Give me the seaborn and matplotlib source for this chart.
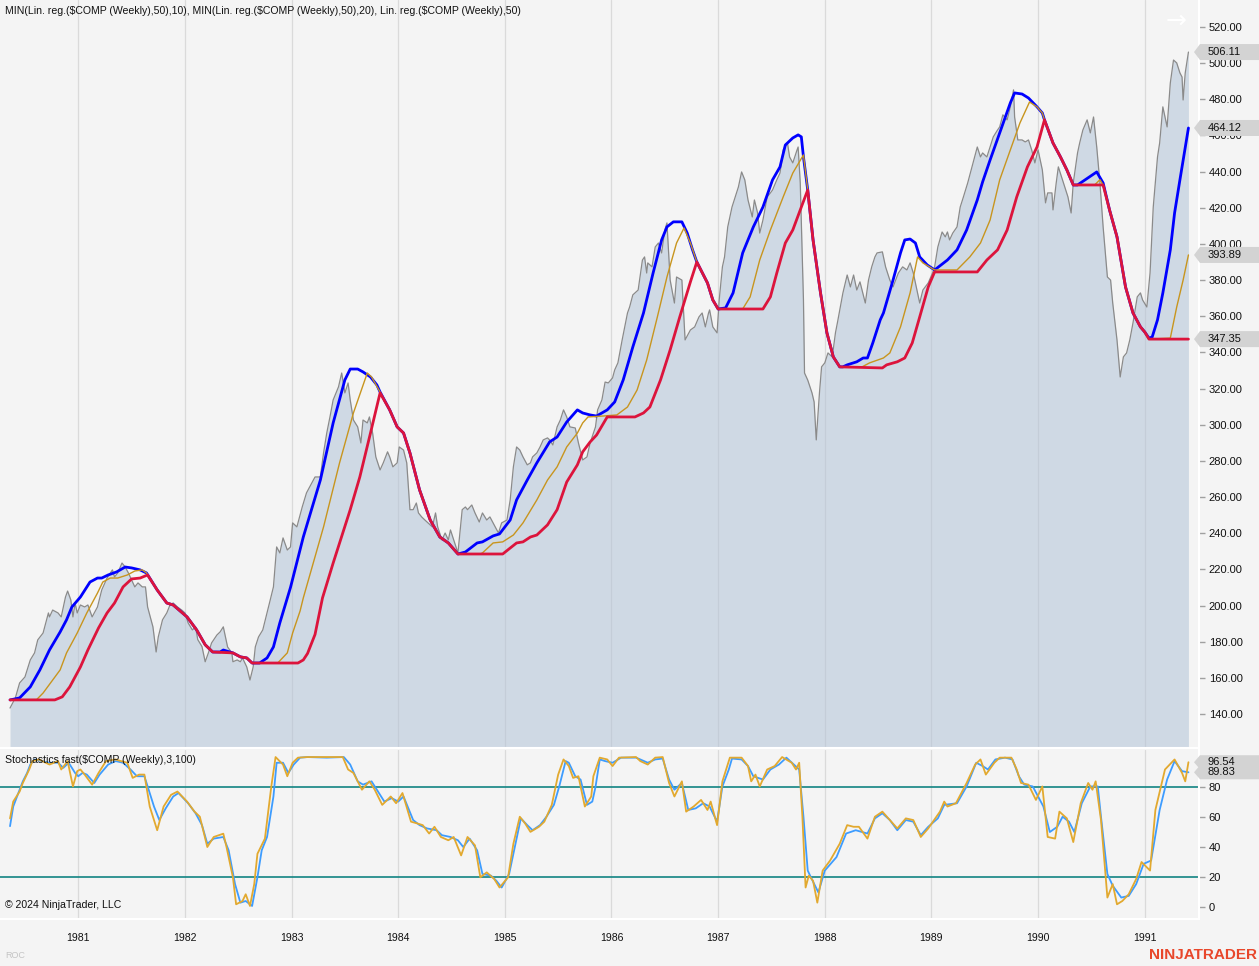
import matplotlib
matplotlib.use("Agg")
import matplotlib.pyplot as plt
import seaborn as sns
import numpy as np
import pandas as pd
from matplotlib.patches import Polygon
from matplotlib.transforms import IdentityTransform

# ---------------- data (decimal years, index values) ----------------
price_t = [1980.36, 1980.41, 1980.45, 1980.50, 1980.55, 1980.59, 1980.62, 1980.67, 1980.72, 1980.73,
           1980.76, 1980.81, 1980.84, 1980.88, 1980.90, 1980.93, 1980.95, 1980.97, 1980.99, 1981.02,
           1981.06, 1981.09, 1981.13, 1981.18, 1981.22, 1981.27, 1981.32, 1981.34, 1981.37, 1981.41,
           1981.44, 1981.47, 1981.50, 1981.53, 1981.56, 1981.60, 1981.63, 1981.65, 1981.69, 1981.70,
           1981.73, 1981.75, 1981.79, 1981.83, 1981.86, 1981.89, 1981.93, 1981.97, 1982.00, 1982.03,
           1982.07, 1982.10, 1982.12, 1982.16, 1982.19, 1982.22, 1982.25, 1982.30, 1982.33, 1982.36,
           1982.38, 1982.40, 1982.44, 1982.45, 1982.49, 1982.52, 1982.54, 1982.58, 1982.61, 1982.64,
           1982.66, 1982.69, 1982.73, 1982.77, 1982.80, 1982.83, 1982.86, 1982.89, 1982.92, 1982.96,
           1982.99, 1983.01, 1983.05, 1983.10, 1983.14, 1983.19, 1983.22, 1983.27, 1983.30, 1983.33,
           1983.36, 1983.39, 1983.44, 1983.47, 1983.50, 1983.53, 1983.55, 1983.58, 1983.62, 1983.65,
           1983.67, 1983.71, 1983.73, 1983.76, 1983.79, 1983.83, 1983.86, 1983.90, 1983.92, 1983.95,
           1983.99, 1984.01, 1984.05, 1984.08, 1984.11, 1984.14, 1984.17, 1984.19, 1984.22, 1984.25,
           1984.28, 1984.32, 1984.35, 1984.37, 1984.41, 1984.44, 1984.47, 1984.49, 1984.53, 1984.56,
           1984.60, 1984.63, 1984.65, 1984.69, 1984.72, 1984.76, 1984.79, 1984.83, 1984.86, 1984.89,
           1984.94, 1984.97, 1985.02, 1985.05, 1985.08, 1985.11, 1985.14, 1985.17, 1985.21, 1985.24,
           1985.26, 1985.30, 1985.33, 1985.36, 1985.40, 1985.42, 1985.45, 1985.49, 1985.52, 1985.55,
           1985.58, 1985.61, 1985.66, 1985.69, 1985.73, 1985.77, 1985.80, 1985.85, 1985.87, 1985.91,
           1985.94, 1985.97, 1986.01, 1986.03, 1986.06, 1986.10, 1986.15, 1986.17, 1986.20, 1986.25,
           1986.29, 1986.31, 1986.33, 1986.34, 1986.38, 1986.41, 1986.44, 1986.47, 1986.50, 1986.52,
           1986.55, 1986.59, 1986.61, 1986.66, 1986.69, 1986.74, 1986.78, 1986.82, 1986.85, 1986.88,
           1986.91, 1986.92, 1986.95, 1986.99, 1987.01, 1987.04, 1987.06, 1987.09, 1987.13, 1987.16,
           1987.19, 1987.22, 1987.25, 1987.28, 1987.32, 1987.34, 1987.37, 1987.39, 1987.42, 1987.46,
           1987.49, 1987.51, 1987.55, 1987.58, 1987.61, 1987.65, 1987.67, 1987.70, 1987.74, 1987.75,
           1987.77, 1987.80, 1987.81, 1987.84, 1987.88, 1987.90, 1987.92, 1987.95, 1987.97, 1988.00,
           1988.03, 1988.07, 1988.10, 1988.12, 1988.17, 1988.21, 1988.24, 1988.27, 1988.30, 1988.33,
           1988.38, 1988.41, 1988.44, 1988.47, 1988.49, 1988.54, 1988.57, 1988.61, 1988.64, 1988.69,
           1988.73, 1988.77, 1988.80, 1988.83, 1988.87, 1988.89, 1988.92, 1988.97, 1989.01, 1989.03,
           1989.06, 1989.10, 1989.13, 1989.15, 1989.17, 1989.20, 1989.24, 1989.27, 1989.30, 1989.34,
           1989.38, 1989.43, 1989.46, 1989.48, 1989.52, 1989.55, 1989.58, 1989.62, 1989.64, 1989.67,
           1989.71, 1989.74, 1989.77, 1989.78, 1989.81, 1989.85, 1989.88, 1989.91, 1989.94, 1989.97,
           1990.00, 1990.04, 1990.07, 1990.09, 1990.13, 1990.14, 1990.17, 1990.19, 1990.22, 1990.25,
           1990.28, 1990.31, 1990.33, 1990.37, 1990.39, 1990.42, 1990.46, 1990.49, 1990.52, 1990.55,
           1990.58, 1990.61, 1990.65, 1990.68, 1990.70, 1990.74, 1990.77, 1990.80, 1990.83, 1990.86,
           1990.89, 1990.93, 1990.96, 1990.98, 1991.02, 1991.05, 1991.08, 1991.12, 1991.14, 1991.17,
           1991.21, 1991.24, 1991.27, 1991.30, 1991.33, 1991.35, 1991.36, 1991.38, 1991.41]
price_v = [143.3, 148.9, 157.2, 160.5, 169.9, 173.8, 181.0, 184.8, 195.9, 193.7,
           197.5, 195.9, 193.7, 204.7, 208.0, 203.1, 193.7, 201.4, 195.9, 200.3,
           199.2, 200.3, 193.7, 199.2, 208.6, 215.2, 219.7, 215.8, 218.0, 223.5,
           221.3, 218.0, 214.1, 210.3, 212.5, 210.3, 210.3, 199.2, 190.4, 188.2,
           174.3, 182.6, 192.1, 195.9, 200.3, 201.4, 199.2, 197.5, 195.9, 190.4,
           186.5, 188.2, 181.2, 177.3, 168.9, 173.8, 179.3, 183.7, 185.4, 188.2,
           182.6, 177.1, 173.8, 168.9, 169.9, 168.9, 171.0, 166.0, 158.8, 166.0,
           177.1, 182.6, 186.5, 195.9, 203.1, 210.3, 232.4, 229.1, 237.4, 230.7,
           232.4, 245.7, 243.5, 254.5, 262.3, 267.8, 271.1, 271.1, 284.4, 295.4,
           304.3, 313.7, 320.9, 328.6, 317.6, 323.1, 313.7, 302.6, 298.8, 289.9,
           302.6, 301.0, 304.3, 295.4, 282.2, 275.0, 278.9, 285.0, 282.2, 276.7,
           278.9, 287.7, 286.0, 278.9, 253.0, 253.0, 256.7, 251.2, 249.0, 247.3,
           245.7, 243.5, 251.2, 243.5, 236.3, 240.1, 236.3, 241.8, 234.6, 229.1,
           253.0, 254.5, 253.0, 255.6, 251.2, 246.2, 251.2, 247.3, 249.0, 245.7,
           240.1, 245.7, 247.3, 258.4, 276.7, 287.7, 286.0, 282.2, 277.8, 278.9,
           282.2, 284.4, 287.7, 291.6, 292.7, 291.6, 288.8, 298.8, 302.6, 308.2,
           304.3, 298.8, 298.2, 289.9, 280.5, 282.2, 290.0, 298.8, 308.2, 313.7,
           323.6, 323.1, 325.9, 330.3, 334.2, 346.9, 361.8, 365.1, 371.8, 374.5,
           391.1, 392.8, 383.9, 389.5, 387.3, 398.3, 400.5, 395.0, 407.7, 411.6,
           380.0, 367.3, 381.7, 380.0, 346.9, 352.4, 354.1, 359.6, 361.8, 354.1,
           361.8, 363.5, 354.1, 350.8, 369.0, 387.3, 392.8, 409.4, 420.4, 426.0,
           431.5, 439.8, 435.4, 424.3, 414.9, 424.3, 417.1, 406.0, 413.2, 426.0,
           428.2, 429.8, 435.4, 439.2, 452.0, 455.8, 448.1, 444.8, 452.0, 453.6,
           433.7, 369.0, 328.6, 324.7, 317.6, 312.6, 291.6, 317.6, 332.0, 334.2,
           339.7, 337.5, 350.8, 356.9, 372.9, 382.8, 376.2, 382.8, 374.5, 379.0,
           367.3, 380.0, 387.3, 392.8, 395.0, 395.6, 387.3, 380.0, 376.2, 383.9,
           387.3, 385.6, 389.5, 383.9, 372.9, 367.3, 374.5, 378.4, 383.9, 387.3,
           398.3, 406.6, 403.9, 406.6, 402.2, 406.0, 409.4, 420.4, 426.0, 433.7,
           442.6, 453.6, 448.1, 450.3, 448.1, 453.6, 459.2, 463.0, 464.7, 471.4,
           468.6, 475.8, 485.2, 470.2, 457.5, 457.5, 456.4, 457.5, 452.0, 444.8,
           452.0, 440.9, 422.7, 428.2, 428.2, 418.8, 433.7, 442.6, 437.0, 431.5,
           426.0, 417.1, 433.7, 450.3, 455.8, 463.0, 468.6, 461.4, 470.2, 453.6,
           433.7, 409.4, 381.7, 380.0, 367.3, 346.9, 326.4, 337.5, 339.7, 346.9,
           356.3, 370.7, 372.9, 369.0, 365.1, 383.9, 420.4, 448.1, 455.8, 475.8,
           464.7, 489.0, 501.7, 500.1, 494.6, 492.3, 479.6, 494.6, 506.11]

min10_t = [1980.36, 1980.45, 1980.55, 1980.64, 1980.73, 1980.83, 1980.89, 1980.94, 1981.02, 1981.11,
           1981.18, 1981.22, 1981.28, 1981.36, 1981.44, 1981.50, 1981.58, 1981.64, 1981.74, 1981.83,
           1981.89, 1982.02, 1982.11, 1982.19, 1982.26, 1982.33, 1982.36, 1982.42, 1982.45, 1982.52,
           1982.58, 1982.63, 1982.70, 1982.77, 1982.83, 1982.89, 1982.99, 1983.11, 1983.27, 1983.39,
           1983.50, 1983.55, 1983.62, 1983.67, 1983.74, 1983.80, 1983.83, 1983.92, 1983.99, 1984.05,
           1984.11, 1984.20, 1984.30, 1984.39, 1984.47, 1984.56, 1984.63, 1984.74, 1984.79, 1984.89,
           1984.95, 1985.05, 1985.11, 1985.21, 1985.30, 1985.42, 1985.49, 1985.58, 1985.68, 1985.73,
           1985.80, 1985.86, 1985.96, 1986.03, 1986.11, 1986.20, 1986.30, 1986.39, 1986.47, 1986.52,
           1986.58, 1986.66, 1986.71, 1986.76, 1986.80, 1986.90, 1986.95, 1987.00, 1987.07, 1987.14,
           1987.23, 1987.33, 1987.42, 1987.51, 1987.58, 1987.63, 1987.70, 1987.75, 1987.78, 1987.80,
           1987.84, 1987.89, 1987.96, 1988.02, 1988.08, 1988.14, 1988.17, 1988.21, 1988.30, 1988.36,
           1988.40, 1988.45, 1988.52, 1988.55, 1988.64, 1988.71, 1988.75, 1988.80, 1988.85, 1988.89,
           1988.96, 1989.03, 1989.15, 1989.24, 1989.33, 1989.43, 1989.48, 1989.55, 1989.64, 1989.74,
           1989.78, 1989.85, 1989.91, 1989.99, 1990.04, 1990.06, 1990.14, 1990.21, 1990.27, 1990.33,
           1990.37, 1990.55, 1990.61, 1990.67, 1990.74, 1990.82, 1990.89, 1990.96, 1991.00, 1991.04,
           1991.07, 1991.12, 1991.17, 1991.24, 1991.28, 1991.33, 1991.41]
min10_v = [147.8, 148.9, 155.0, 164.4, 175.4, 185.4, 192.1, 199.2, 204.7, 213.0,
           215.2, 215.2, 216.9, 218.6, 221.3, 220.8, 219.7, 218.0, 208.6, 201.4,
           200.3, 193.7, 186.5, 178.3, 174.3, 174.3, 175.4, 174.3, 173.8, 171.6,
           171.0, 168.2, 168.2, 171.0, 177.1, 190.4, 210.0, 237.9, 269.4, 301.0,
           324.8, 330.8, 330.8, 329.2, 326.4, 322.0, 318.1, 308.2, 298.8, 295.4,
           284.4, 264.0, 247.3, 237.9, 234.6, 228.5, 229.6, 234.6, 235.2, 238.5,
           239.6, 247.3, 258.4, 269.4, 278.9, 290.5, 293.2, 301.5, 308.2, 306.5,
           305.4, 304.8, 308.2, 312.6, 324.8, 343.0, 361.8, 383.9, 402.2, 409.4,
           412.2, 412.2, 406.0, 396.7, 390.0, 378.4, 369.0, 364.0, 364.6, 372.9,
           395.0, 409.4, 420.4, 435.4, 442.6, 454.7, 458.6, 460.3, 459.2, 448.1,
           429.8, 402.2, 372.9, 350.8, 337.5, 332.0, 332.0, 333.1, 334.8, 336.9,
           336.9, 345.2, 358.0, 361.8, 380.0, 395.0, 402.2, 402.7, 400.5, 392.8,
           388.4, 385.6, 391.1, 396.7, 407.7, 424.3, 434.3, 446.4, 461.4, 478.0,
           483.5, 482.9, 480.7, 475.8, 472.4, 468.6, 455.8, 448.1, 440.9, 432.6,
           432.6, 439.8, 433.7, 418.8, 403.9, 376.2, 361.8, 354.1, 351.3, 347.9,
           348.5, 358.0, 372.9, 396.7, 417.1, 435.4, 464.12]

min20_t = [1980.36, 1980.78, 1980.85, 1980.92, 1981.02, 1981.09, 1981.19, 1981.27, 1981.34, 1981.42,
           1981.50, 1981.58, 1981.65, 1981.74, 1981.83, 1981.89, 1982.02, 1982.11, 1982.19, 1982.26,
           1982.45, 1982.52, 1982.58, 1982.63, 1983.06, 1983.11, 1983.15, 1983.22, 1983.29, 1983.39,
           1983.55, 1983.64, 1983.74, 1983.83, 1983.92, 1983.99, 1984.05, 1984.11, 1984.20, 1984.30,
           1984.39, 1984.47, 1984.56, 1984.98, 1985.05, 1985.11, 1985.17, 1985.24, 1985.30, 1985.40,
           1985.49, 1985.58, 1985.68, 1985.73, 1985.80, 1985.86, 1985.96, 1986.22, 1986.30, 1986.36,
           1986.46, 1986.55, 1986.64, 1986.74, 1986.80, 1986.90, 1986.95, 1987.00, 1987.42, 1987.49,
           1987.55, 1987.63, 1987.70, 1987.77, 1987.84, 1987.89, 1987.96, 1988.02, 1988.08, 1988.14,
           1988.54, 1988.58, 1988.68, 1988.75, 1988.82, 1988.89, 1988.97, 1989.03, 1989.43, 1989.52,
           1989.62, 1989.71, 1989.80, 1989.90, 1989.99, 1990.06, 1990.14, 1990.21, 1990.27, 1990.33,
           1990.61, 1990.67, 1990.74, 1990.82, 1990.89, 1990.96, 1991.00, 1991.04, 1991.41]
min20_v = [147.8, 147.8, 149.5, 155.0, 166.0, 175.4, 187.6, 195.9, 201.4, 210.3,
           214.7, 215.2, 216.9, 208.6, 201.4, 200.3, 193.7, 186.5, 178.3, 174.3,
           173.8, 171.6, 171.0, 168.2, 168.2, 169.9, 173.5, 184.0, 204.2, 223.5,
           253.0, 271.1, 295.4, 317.6, 308.2, 298.8, 295.4, 284.4, 264.0, 247.3,
           237.9, 234.6, 228.5, 228.5, 231.8, 234.6, 235.2, 237.9, 239.0, 244.6,
           253.0, 268.3, 277.8, 285.0, 290.5, 294.3, 304.3, 304.3, 306.5, 309.8,
           324.8, 341.4, 359.6, 379.0, 390.0, 378.4, 369.0, 364.0, 364.0, 370.7,
           383.9, 400.5, 407.7, 418.8, 429.8, 402.2, 372.9, 350.8, 337.5, 332.0,
           331.4, 333.1, 334.8, 336.9, 345.2, 359.6, 376.2, 384.5, 384.5, 391.1,
           396.7, 407.7, 426.0, 442.6, 453.6, 468.6, 455.8, 448.1, 440.9, 432.6,
           432.6, 418.8, 403.9, 376.2, 361.8, 354.1, 351.3, 347.35, 347.35]

linreg_t = [1980.36, 1980.61, 1980.67, 1980.76, 1980.83, 1980.89, 1980.99, 1981.08, 1981.18, 1981.23,
            1981.30, 1981.37, 1981.46, 1981.53, 1981.60, 1981.64, 1981.74, 1981.83, 1981.89, 1982.02,
            1982.11, 1982.19, 1982.26, 1982.45, 1982.52, 1982.58, 1982.63, 1982.87, 1982.96, 1983.01,
            1983.08, 1983.11, 1983.30, 1983.45, 1983.58, 1983.71, 1983.75, 1983.83, 1983.92, 1983.99,
            1984.05, 1984.11, 1984.20, 1984.30, 1984.39, 1984.47, 1984.56, 1984.77, 1984.79, 1984.89,
            1984.98, 1985.08, 1985.17, 1985.30, 1985.40, 1985.49, 1985.58, 1985.68, 1985.73, 1985.78,
            1985.92, 1986.05, 1986.15, 1986.24, 1986.33, 1986.43, 1986.52, 1986.61, 1986.68, 1986.74,
            1986.80, 1986.90, 1986.95, 1987.00, 1987.23, 1987.30, 1987.39, 1987.49, 1987.61, 1987.70,
            1987.80, 1987.84, 1987.89, 1987.96, 1988.02, 1988.08, 1988.14, 1988.35, 1988.42, 1988.55,
            1988.61, 1988.71, 1988.80, 1988.87, 1988.92, 1989.03, 1989.24, 1989.36, 1989.46, 1989.55,
            1989.64, 1989.74, 1989.83, 1989.92, 1989.99, 1990.04, 1990.06, 1990.14, 1990.21, 1990.27,
            1990.33, 1990.53, 1990.58, 1990.61, 1990.67, 1990.74, 1990.82, 1990.89, 1990.96, 1991.00,
            1991.04, 1991.24, 1991.30, 1991.36, 1991.41]
linreg_v = [147.8, 148.0, 151.6, 158.8, 164.4, 173.8, 184.8, 195.9, 206.9, 213.0,
            215.2, 215.2, 216.9, 219.1, 219.7, 218.0, 208.6, 201.4, 200.3, 193.7,
            186.5, 178.3, 174.3, 173.8, 171.6, 171.0, 168.2, 168.2, 173.8, 184.8,
            197.0, 204.2, 243.5, 278.9, 306.5, 328.6, 326.4, 318.1, 308.2, 298.8,
            295.4, 284.4, 264.0, 247.3, 237.9, 234.6, 228.5, 228.5, 229.1, 234.6,
            235.2, 239.0, 245.7, 258.4, 269.4, 276.7, 287.7, 295.4, 301.0, 304.3,
            304.8, 305.4, 309.8, 319.2, 335.8, 359.6, 381.7, 400.5, 408.8, 400.5,
            390.0, 378.4, 369.0, 364.0, 364.0, 370.7, 391.1, 407.7, 426.0, 439.2,
            449.2, 429.8, 402.2, 372.9, 350.8, 337.5, 332.0, 332.0, 334.2, 336.9,
            339.7, 354.1, 372.9, 392.8, 389.5, 385.6, 385.6, 392.8, 400.5, 413.2,
            435.4, 452.0, 466.9, 478.5, 475.8, 472.4, 468.6, 455.8, 448.1, 440.9,
            432.6, 432.6, 435.5, 432.6, 418.8, 403.9, 376.2, 361.8, 354.1, 351.3,
            347.35, 347.9, 365.1, 380.0, 393.89]

stoch_d_t = [1980.36, 1980.39, 1980.45, 1980.48, 1980.52, 1980.55, 1980.59, 1980.66, 1980.73, 1980.81,
             1980.86, 1980.91, 1980.97, 1981.00, 1981.04, 1981.08, 1981.15, 1981.20, 1981.28, 1981.35,
             1981.42, 1981.49, 1981.55, 1981.62, 1981.65, 1981.71, 1981.76, 1981.82, 1981.89, 1981.94,
             1982.03, 1982.10, 1982.16, 1982.21, 1982.27, 1982.36, 1982.41, 1982.47, 1982.52, 1982.57,
             1982.63, 1982.68, 1982.72, 1982.77, 1982.83, 1982.86, 1982.92, 1982.97, 1983.02, 1983.08,
             1983.15, 1983.33, 1983.49, 1983.55, 1983.62, 1983.67, 1983.75, 1983.82, 1983.87, 1983.94,
             1984.00, 1984.05, 1984.14, 1984.20, 1984.27, 1984.36, 1984.41, 1984.49, 1984.56, 1984.61,
             1984.67, 1984.74, 1984.79, 1984.87, 1984.92, 1984.97, 1985.04, 1985.10, 1985.15, 1985.21,
             1985.26, 1985.33, 1985.39, 1985.46, 1985.51, 1985.57, 1985.60, 1985.66, 1985.71, 1985.77,
             1985.82, 1985.85, 1985.89, 1985.94, 1986.01, 1986.09, 1986.23, 1986.27, 1986.34, 1986.41,
             1986.48, 1986.54, 1986.59, 1986.66, 1986.72, 1986.79, 1986.86, 1986.92, 1986.99, 1987.04,
             1987.10, 1987.13, 1987.22, 1987.28, 1987.33, 1987.42, 1987.49, 1987.57, 1987.64, 1987.71,
             1987.76, 1987.80, 1987.84, 1987.87, 1987.94, 1988.00, 1988.11, 1988.20, 1988.29, 1988.40,
             1988.47, 1988.54, 1988.61, 1988.68, 1988.76, 1988.83, 1988.90, 1988.97, 1989.06, 1989.12,
             1989.24, 1989.33, 1989.42, 1989.48, 1989.53, 1989.60, 1989.69, 1989.76, 1989.82, 1989.87,
             1989.95, 1990.00, 1990.05, 1990.11, 1990.18, 1990.23, 1990.29, 1990.34, 1990.41, 1990.49,
             1990.56, 1990.59, 1990.65, 1990.70, 1990.78, 1990.85, 1990.92, 1990.99, 1991.06, 1991.14,
             1991.21, 1991.28, 1991.35, 1991.41]
stoch_d_v = [53.9, 67.0, 78.2, 83.8, 89.4, 95.0, 98.4, 97.3, 96.2, 96.2,
             92.8, 96.2, 89.4, 87.2, 89.4, 88.3, 82.7, 88.3, 95.0, 97.3,
             96.2, 91.7, 87.2, 87.2, 80.4, 67.0, 58.0, 65.8, 73.7, 76.0,
             69.2, 62.5, 54.6, 42.2, 45.6, 46.7, 37.8, 15.3, 2.9, 4.0,
             0.7, 19.8, 37.8, 46.7, 73.7, 96.2, 96.2, 89.4, 95.0, 99.6,
             100.0, 99.6, 100.0, 95.0, 83.8, 81.6, 83.8, 76.0, 70.3, 72.6,
             70.3, 73.7, 58.0, 54.6, 52.4, 51.2, 47.9, 46.7, 44.5, 40.0,
             45.6, 37.8, 22.0, 20.9, 17.5, 13.0, 22.0, 42.2, 59.1, 54.6,
             51.2, 54.6, 60.2, 68.1, 80.4, 97.3, 96.2, 87.2, 85.0, 68.1,
             70.3, 80.0, 98.4, 97.3, 96.2, 99.6, 99.6, 98.4, 96.2, 98.4,
             99.0, 85.0, 78.2, 82.7, 64.7, 65.8, 69.2, 67.0, 56.9, 80.4,
             91.7, 99.0, 98.4, 94.0, 87.2, 85.0, 91.7, 95.0, 99.6, 95.0,
             91.7, 60.2, 24.3, 19.8, 9.7, 24.3, 33.3, 49.0, 51.2, 49.0,
             59.1, 62.5, 58.0, 51.2, 58.0, 56.9, 47.9, 53.5, 59.1, 68.1,
             69.2, 80.4, 96.2, 94.0, 91.7, 98.4, 99.6, 98.4, 87.2, 81.6,
             80.4, 73.7, 67.0, 50.0, 53.5, 60.2, 56.9, 50.0, 69.2, 80.4,
             80.4, 60.2, 22.0, 14.2, 6.3, 7.4, 15.3, 28.8, 31.0, 64.7,
             85.0, 97.3, 90.6, 89.83]

stoch_k_t = [1980.36, 1980.39, 1980.45, 1980.48, 1980.54, 1980.57, 1980.63, 1980.73, 1980.81, 1980.84,
             1980.90, 1980.95, 1980.99, 1981.02, 1981.06, 1981.13, 1981.19, 1981.26, 1981.35, 1981.40,
             1981.46, 1981.51, 1981.57, 1981.62, 1981.67, 1981.74, 1981.80, 1981.87, 1981.93, 1982.02,
             1982.09, 1982.14, 1982.21, 1982.27, 1982.36, 1982.39, 1982.45, 1982.48, 1982.54, 1982.57,
             1982.61, 1982.65, 1982.68, 1982.75, 1982.81, 1982.85, 1982.92, 1982.96, 1983.01, 1983.06,
             1983.15, 1983.48, 1983.53, 1983.58, 1983.66, 1983.73, 1983.78, 1983.85, 1983.93, 1983.98,
             1984.04, 1984.12, 1984.18, 1984.23, 1984.29, 1984.34, 1984.40, 1984.47, 1984.52, 1984.59,
             1984.65, 1984.72, 1984.77, 1984.83, 1984.90, 1984.95, 1985.03, 1985.08, 1985.14, 1985.19,
             1985.24, 1985.32, 1985.37, 1985.44, 1985.50, 1985.55, 1985.60, 1985.64, 1985.69, 1985.75,
             1985.81, 1985.83, 1985.89, 1985.96, 1986.01, 1986.07, 1986.23, 1986.27, 1986.34, 1986.41,
             1986.48, 1986.54, 1986.59, 1986.66, 1986.70, 1986.77, 1986.84, 1986.90, 1986.93, 1986.99,
             1987.04, 1987.11, 1987.22, 1987.28, 1987.31, 1987.35, 1987.39, 1987.46, 1987.53, 1987.60,
             1987.69, 1987.73, 1987.76, 1987.79, 1987.82, 1987.85, 1987.89, 1987.93, 1987.98, 1988.05,
             1988.14, 1988.21, 1988.27, 1988.32, 1988.40, 1988.47, 1988.54, 1988.61, 1988.68, 1988.76,
             1988.83, 1988.90, 1988.97, 1989.08, 1989.12, 1989.15, 1989.23, 1989.33, 1989.41, 1989.46,
             1989.51, 1989.59, 1989.64, 1989.75, 1989.80, 1989.84, 1989.91, 1989.98, 1990.04, 1990.09,
             1990.16, 1990.20, 1990.27, 1990.33, 1990.40, 1990.47, 1990.51, 1990.54, 1990.59, 1990.65,
             1990.70, 1990.74, 1990.79, 1990.85, 1990.92, 1990.97, 1991.05, 1991.10, 1991.19, 1991.28,
             1991.35, 1991.38, 1991.41]
stoch_k_v = [59.1, 70.3, 77.0, 82.7, 91.7, 97.3, 98.4, 95.0, 97.3, 91.7,
             97.3, 80.4, 90.6, 91.7, 88.3, 81.6, 89.4, 97.3, 98.4, 97.3,
             96.2, 86.1, 88.3, 88.3, 67.0, 51.2, 67.0, 74.8, 77.0, 70.3,
             63.6, 60.2, 40.0, 46.7, 48.9, 40.0, 19.8, 1.8, 4.0, 8.5,
             0.7, 15.3, 35.5, 45.6, 80.4, 100.0, 95.0, 87.2, 96.2, 99.6,
             100.0, 100.0, 91.7, 89.4, 78.2, 83.8, 78.2, 68.1, 73.7, 69.2,
             76.0, 56.9, 55.7, 54.6, 49.0, 53.5, 46.7, 44.5, 46.7, 34.4,
             46.7, 41.1, 19.8, 23.1, 18.7, 13.0, 19.8, 42.2, 60.2, 55.7,
             50.1, 53.5, 56.9, 68.1, 88.3, 98.4, 94.0, 86.1, 87.2, 67.0,
             73.7, 87.2, 99.6, 98.4, 94.0, 99.6, 100.0, 97.3, 95.0, 99.6,
             100.0, 82.7, 73.7, 83.8, 63.6, 67.0, 71.4, 64.7, 70.3, 54.6,
             83.8, 99.6, 99.6, 94.0, 83.8, 88.3, 80.4, 91.7, 94.0, 100.0,
             96.2, 91.7, 96.2, 60.2, 13.0, 20.9, 17.5, 2.9, 24.3, 31.0,
             42.2, 54.6, 53.5, 53.5, 45.6, 60.2, 63.6, 58.0, 52.4, 59.1,
             58.0, 46.7, 52.4, 63.6, 70.3, 67.0, 69.2, 82.7, 95.0, 98.4,
             88.3, 96.2, 99.6, 99.6, 91.7, 82.7, 81.6, 71.4, 80.4, 46.7,
             45.6, 63.6, 59.1, 43.3, 69.2, 82.7, 78.2, 83.8, 58.0, 6.3,
             15.3, 1.8, 4.0, 8.5, 18.7, 30.0, 24.3, 64.7, 91.7, 98.4,
             89.4, 83.8, 96.54]

year_ticks = list(range(1981, 1992))
price_ticks = list(range(140, 521, 20))
stoch_ticks = [0, 20, 40, 60, 80]
stoch_levels = [20, 80]
price_tags = [506.11, 464.12, 393.89, 347.35]
stoch_tags = [89.83, 96.54]

# ---------------- style ----------------
sns.set_theme(style="white")
plt.rcParams["font.family"] = ["Liberation Sans", "DejaVu Sans"]

BG = "#f4f4f4"
W, H = 1259, 966
fig = plt.figure(figsize=(W / 100, H / 100), dpi=100, facecolor=BG)

XL = (1980.266, 1991.509)
ax1 = fig.add_axes([0, 1 - 748 / H, 1199 / W, 748 / H])
ax2 = fig.add_axes([0, 1 - 919 / H, 1199 / W, 169 / H])

for ax in (ax1, ax2):
    ax.set_facecolor(BG)
    ax.set_xlim(*XL)
    for yr in year_ticks:
        ax.axvline(yr, color="#dadada", lw=0.9, zorder=0.5)
    for s in ("top", "left"):
        ax.spines[s].set_visible(False)
    for s in ("right", "bottom"):
        ax.spines[s].set_color("white")
        ax.spines[s].set_linewidth(1.5)

ax1.set_ylim(121.2, 534.9)
ax2.set_ylim(-8.0, 104.7)

# price area
ax1.fill_between(price_t, 0, price_v, color=(178 / 255, 196 / 255, 216 / 255), alpha=0.55, lw=0, zorder=1)
sns.lineplot(x=price_t, y=price_v, ax=ax1, color="#8a8a8a", lw=0.9, zorder=2, sort=False, estimator=None)
sns.lineplot(x=min10_t, y=min10_v, ax=ax1, color="#0000ff", lw=2.0, zorder=3, sort=False, estimator=None)
sns.lineplot(x=linreg_t, y=linreg_v, ax=ax1, color="#c8951e", lw=1.0, zorder=4, sort=False, estimator=None)
sns.lineplot(x=min20_t, y=min20_v, ax=ax1, color="#dc143c", lw=2.0, zorder=5, sort=False, estimator=None)

# stochastics
for lv in stoch_levels:
    ax2.axhline(lv, color="#128482", lw=1.2, zorder=1)
sns.lineplot(x=stoch_d_t, y=stoch_d_v, ax=ax2, color="#3d9cff", lw=1.3, zorder=3, sort=False, estimator=None)
sns.lineplot(x=stoch_k_t, y=stoch_k_v, ax=ax2, color="#e2a92f", lw=1.3, zorder=4, sort=False, estimator=None)

# axes ticks
for ax in (ax1, ax2):
    ax.set_xlabel("")
    ax.set_ylabel("")
    ax.yaxis.tick_right()
    ax.set_xticks(year_ticks)
    ax.tick_params(axis="y", length=4, width=1, color="#a0a0a0", labelsize=8, pad=3, labelcolor="#111111")

ax1.set_yticks(price_ticks)
ax1.set_yticklabels([f"{v:.2f}" for v in price_ticks])
ax1.tick_params(axis="x", length=0, labelbottom=False)

ax2.set_yticks(stoch_ticks)
ax2.set_yticklabels([str(v) for v in stoch_ticks])
ax2.set_xticklabels([str(y) for y in year_ticks])
ax2.tick_params(axis="x", length=4, width=1, color="#cfcfcf", labelsize=7.6, pad=6, labelcolor="#111111")

# ---------------- texts ----------------
ID = IdentityTransform()
fig.text(5, H - 11, "MIN(Lin. reg.($COMP (Weekly),50),10), MIN(Lin. reg.($COMP (Weekly),50),20), Lin. reg.($COMP (Weekly),50)",
         transform=ID, ha="left", va="center", fontsize=7.6, color="#111111")
fig.text(5, H - 760, "Stochastics fast($COMP (Weekly),3,100)", transform=ID, ha="left", va="center",
         fontsize=7.6, color="#111111", zorder=6)
fig.text(5, H - 905, "© 2024 NinjaTrader, LLC", transform=ID, ha="left", va="center", fontsize=7.6, color="#111111")
fig.text(5, H - 956, "ROC", transform=ID, ha="left", va="center", fontsize=6.5, color="#c4c4c4")
fig.text(1257, H - 955, "NINJATRADER", transform=ID, ha="right", va="center", fontsize=11,
         fontweight="bold", color="#e8472b")
fig.text(1176, H - 21, "→", transform=ID, ha="center", va="center", fontsize=18, color="white",
         family=["DejaVu Sans"])


def tag(ax, value, hh):
    y = ax.transData.transform((XL[0], value))[1]
    poly = Polygon([(1194, y), (1200, y + hh), (1262, y + hh), (1262, y - hh), (1200, y - hh)],
                   closed=True, transform=ID, fc="#d3d3d3", ec="none", zorder=10)
    fig.add_artist(poly)
    fig.text(1208, y, f"{value:.2f}", transform=ID, ha="left", va="center", fontsize=8,
             color="#111111", zorder=11)


for v in price_tags:
    tag(ax1, v, 8)
for v in stoch_tags:
    tag(ax2, v, 7)

fig.savefig("out.png", dpi=100, facecolor=BG)
